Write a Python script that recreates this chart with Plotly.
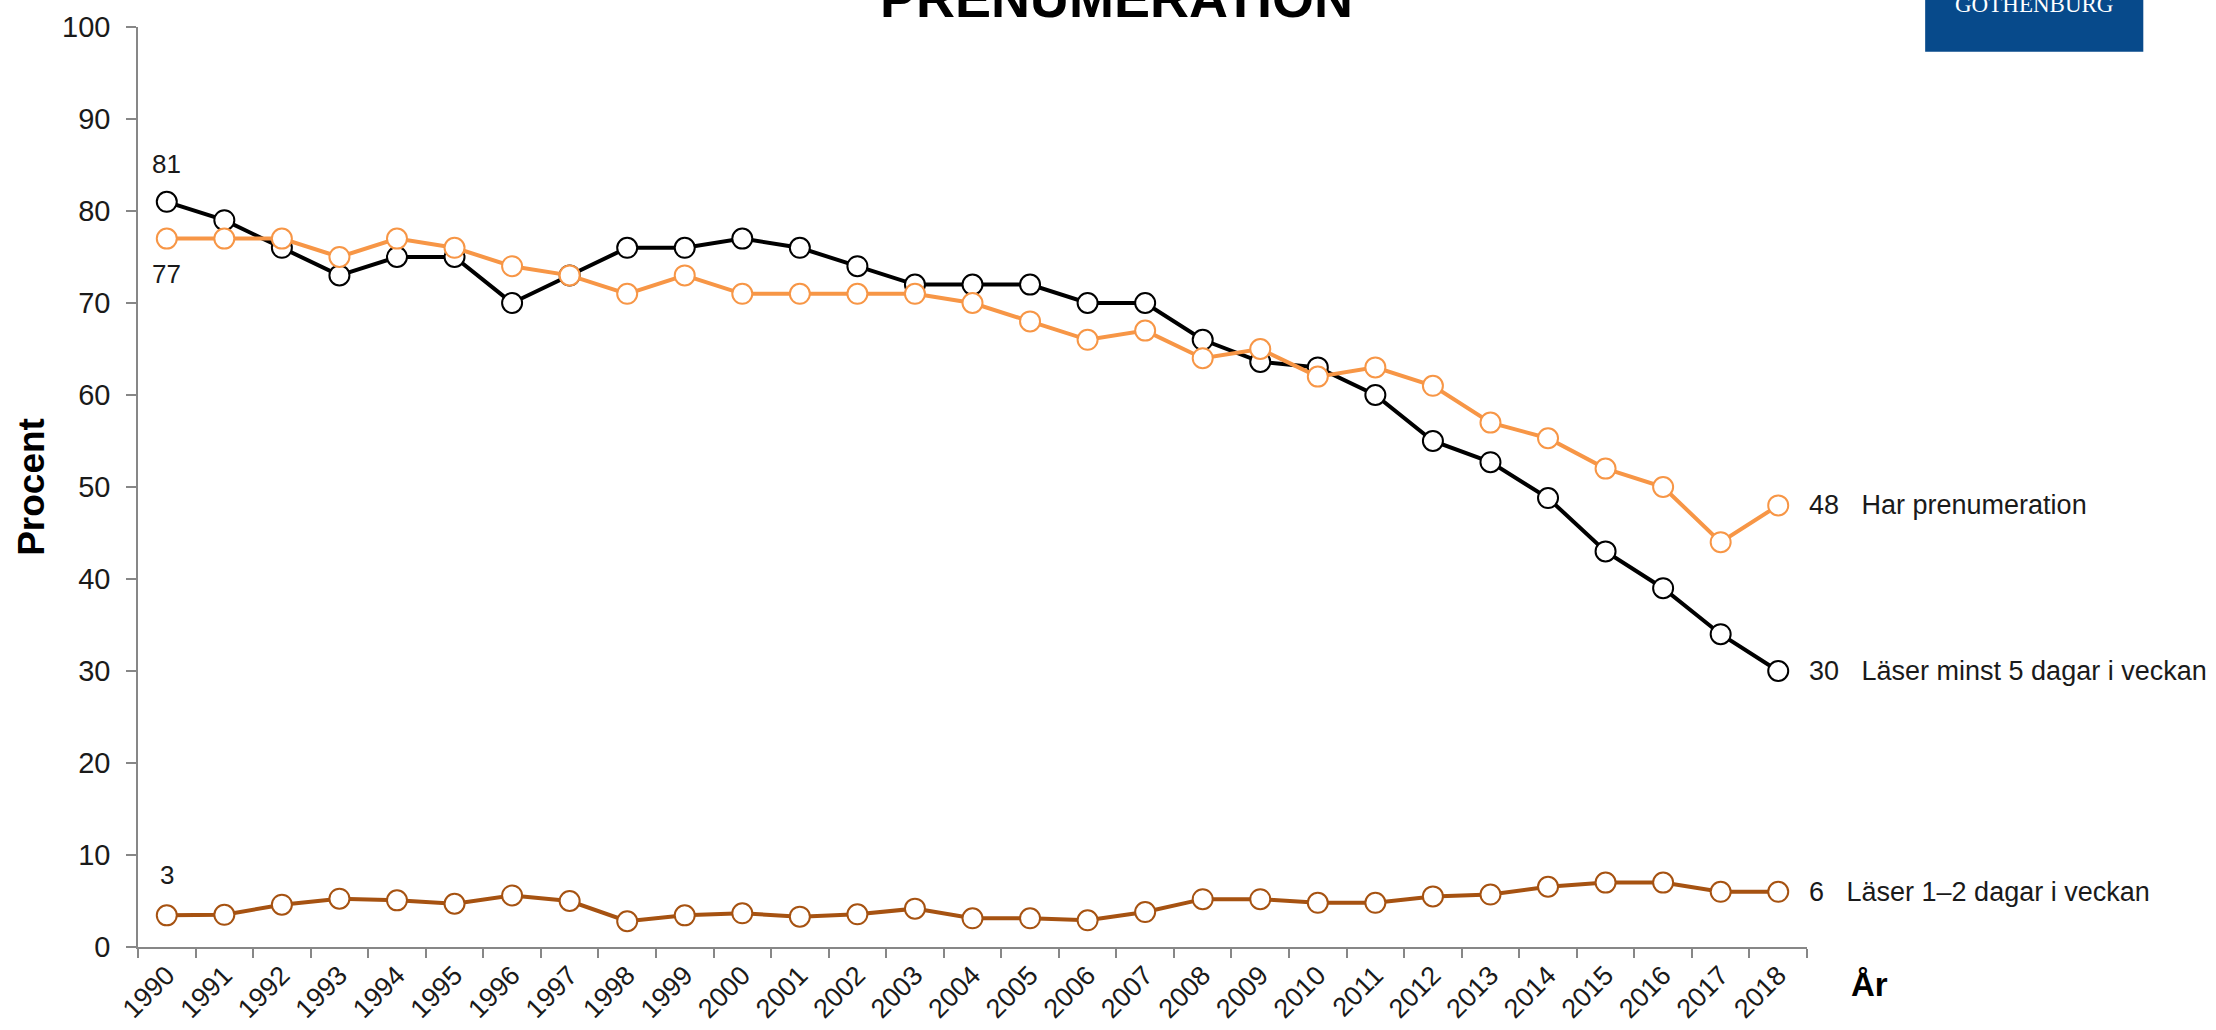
import plotly.graph_objects as go

years = [str(y) for y in range(1990, 2019)]

las_minst_5 = [81, 79, 76, 73, 75, 75, 70, 73, 76, 76, 77, 76, 74, 72, 72, 72, 70, 70,
               66, 63.6, 63, 60, 55, 52.7, 48.8, 43, 39, 34, 30]
har_pren = [77, 77, 77, 75, 77, 76, 74, 73, 71, 73, 71, 71, 71, 71, 70, 68, 66, 67,
            64, 65, 62, 63, 61, 57, 55.3, 52, 50, 44, 48]
las_1_2 = [3.44, 3.5, 4.6, 5.25, 5.07, 4.7, 5.6, 5.0, 2.8, 3.44, 3.66, 3.3, 3.55, 4.17,
           3.12, 3.12, 2.9, 3.8, 5.2, 5.2, 4.8, 4.8, 5.5, 5.7, 6.55, 7.0, 7.0, 6.0, 6.0]

series_names = ["Läser minst 5 dagar i veckan", "Har prenumeration", "Läser 1–2 dagar i veckan"]
end_labels = ["30", "48", "6"]
start_labels = ["81", "77", "3"]
colors = ["#000000", "#F79646", "#A65211"]
y_ticks = list(range(0, 101, 10))

FONT = "Liberation Sans, Arial, sans-serif"
TXT = "#1a1a1a"
AX = "#878787"

fig = go.Figure()
all_series = [las_minst_5, har_pren, las_1_2]
for vals, col, name in zip(all_series, colors, series_names):
    fig.add_trace(go.Scatter(
        x=years, y=vals, mode="lines+markers", name=name,
        line=dict(color=col, width=4),
        marker=dict(symbol="circle", size=20, color="white", line=dict(color=col, width=2)),
        cliponaxis=False,
    ))

ann = []
# end labels
for vals, lab, name in zip(all_series, end_labels, series_names):
    ann.append(dict(x=1.0, xref="paper", y=vals[-1], yref="y", xanchor="left", yanchor="middle",
                    text=lab + "\u00a0\u00a0\u00a0" + name, showarrow=False,
                    font=dict(family=FONT, size=27, color=TXT)))
# start labels (x index 0 = first category)
shifts = [38, -35, 40]
for vals, lab, sh in zip(all_series, start_labels, shifts):
    ann.append(dict(x=0, y=vals[0], xref="x", yref="y", text=lab, showarrow=False,
                    yshift=sh, xanchor="center", yanchor="middle",
                    font=dict(family=FONT, size=26, color=TXT)))
# axis titles
ann.append(dict(x=-0.0642, y=0.5, xref="paper", yref="paper", text="<b>Procent</b>",
                textangle=-90, showarrow=False, xanchor="center", yanchor="middle",
                font=dict(family=FONT, size=37, color="#000000")))
ann.append(dict(x=1.0373, y=-0.0405, xref="paper", yref="paper", text="<b>År</b>",
                showarrow=False, xanchor="center", yanchor="middle",
                font=dict(family=FONT, size=33, color="#000000")))
# title (cut at top, as in the original)
ann.append(dict(x=(1116 - 138.2) / 1668.6, y=0.997, xref="paper", yref="paper",
                text="<b>PRENUMERATION</b>", showarrow=False, xanchor="center", yanchor="bottom",
                font=dict(family=FONT, size=54, color="#000000")))
# logo text
ann.append(dict(x=1.1362, y=1.0085, xref="paper", yref="paper", text="GOTHENBURG",
                showarrow=False, xanchor="center", yanchor="bottom",
                font=dict(family="Liberation Serif, serif", size=23, color="white")))

fig.update_layout(
    width=2216, height=1030,
    margin=dict(l=138, r=409, t=27, b=83),
    paper_bgcolor="white", plot_bgcolor="white",
    showlegend=False,
    annotations=ann,
    shapes=[dict(type="rect", xref="paper", yref="paper", x0=1.0708, x1=1.2015,
                 y0=0.9732, y1=1.06, fillcolor="#074A8B", line=dict(width=0), layer="below")],
    xaxis=dict(type="category", range=[-0.5, len(years) - 0.5], tickson="boundaries",
               ticks="outside", ticklen=9, automargin=False,
               tickcolor=AX, tickwidth=1.5, showline=True, linecolor=AX, linewidth=1.5,
               showgrid=False, tickangle=-45, zeroline=False,
               tickfont=dict(family=FONT, size=27, color=TXT)),
    yaxis=dict(range=[0, 100], tickvals=y_ticks, ticks="outside", ticklen=10, automargin=False,
               ticklabelstandoff=10,
               tickcolor=AX, tickwidth=1.5, showline=True, linecolor=AX, linewidth=1.5,
               showgrid=False, zeroline=False,
               tickfont=dict(family=FONT, size=29, color=TXT)),
)

# remove the browser's default 8px body margin so the figure fills the window exactly
fig.write_html("out.html",
               config={"displayModeBar": False},
               post_script="document.body.style.margin='0';document.body.style.overflow='hidden';")
